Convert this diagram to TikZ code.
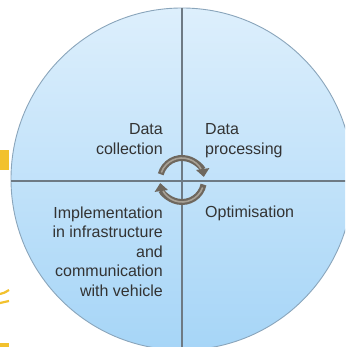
\documentclass[tikz,border=0pt]{standalone}
\usepackage{fontspec}
\setmainfont{Liberation Sans}
\usetikzlibrary{arrows.meta}
\definecolor{fillTop}{HTML}{DDEFFC}
\definecolor{fillBot}{HTML}{A6D5F7}
\definecolor{rimCol}{HTML}{8AA5BB}
\definecolor{divCol}{HTML}{6E7A84}
\definecolor{txtCol}{HTML}{333333}
\definecolor{cycDark}{HTML}{6E675E}
\definecolor{cycLight}{HTML}{A8A196}
\definecolor{sunCol}{HTML}{F2C12E}
\tikzset{
  lbl/.style={font=\fontsize{16}{19.5}\selectfont, text=txtCol, inner sep=0pt},
  cyc/.style={line width=6pt, cycDark, -{Triangle[width=13pt,length=8pt]}},
  cychl/.style={line width=1.6pt, cycLight},
  divline/.style={divCol, line width=1.3pt},
}
\begin{document}
\begin{tikzpicture}[x=1pt,y=1pt]
\useasboundingbox (0,0) rectangle (345,347);
\clip (0,0) rectangle (345,347);
% yellow background fragments
\fill[sunCol] (0,177) rectangle (9,197);
\draw[sunCol, line width=2.2pt] (0,53) .. controls (4,54) .. (9,57);
\draw[sunCol, line width=2.2pt] (0,44) .. controls (4,45) .. (9,46);
\fill[sunCol] (0,0) rectangle (9,4);
% main circle
\coordinate (c) at (182,168);
\shade[top color=fillTop, bottom color=fillBot, draw=rimCol, line width=0.9pt] (c) circle (171);
\coordinate (top) at (182,339);
\coordinate (bot) at (182,-5);
\coordinate (lft) at (11,166);
\coordinate (rgt) at (353,166);
\draw[divline] (top) -- (bot);
\draw[divline] (lft) -- (rgt);
% labels
\node[lbl, align=right, anchor=north east] (dc) at (163,223.6) {Data\\collection};
\node[lbl, align=left, anchor=north west] (dp) at (205,223.6) {Data\\processing};
\node[lbl, align=left, anchor=base west] (op) at (205,129) {Optimisation};
\node[lbl, align=right, anchor=north east] (im) at (163,140.7) {Implementation\\in infrastructure\\and\\communication\\with vehicle};
% cycle arrows
\coordinate (cc) at (182,167);
\draw[cyc] ([shift={(165:22)}]cc) arc[start angle=165, end angle=8, radius=22];
\draw[cyc] ([shift={(-12:22)}]cc) arc[start angle=-12, end angle=-172, radius=22];
\draw[cychl] ([shift={(160:22)}]cc) arc[start angle=160, end angle=30, radius=22];
\draw[cychl] ([shift={(-20:22)}]cc) arc[start angle=-20, end angle=-150, radius=22];
\end{tikzpicture}
\end{document}
